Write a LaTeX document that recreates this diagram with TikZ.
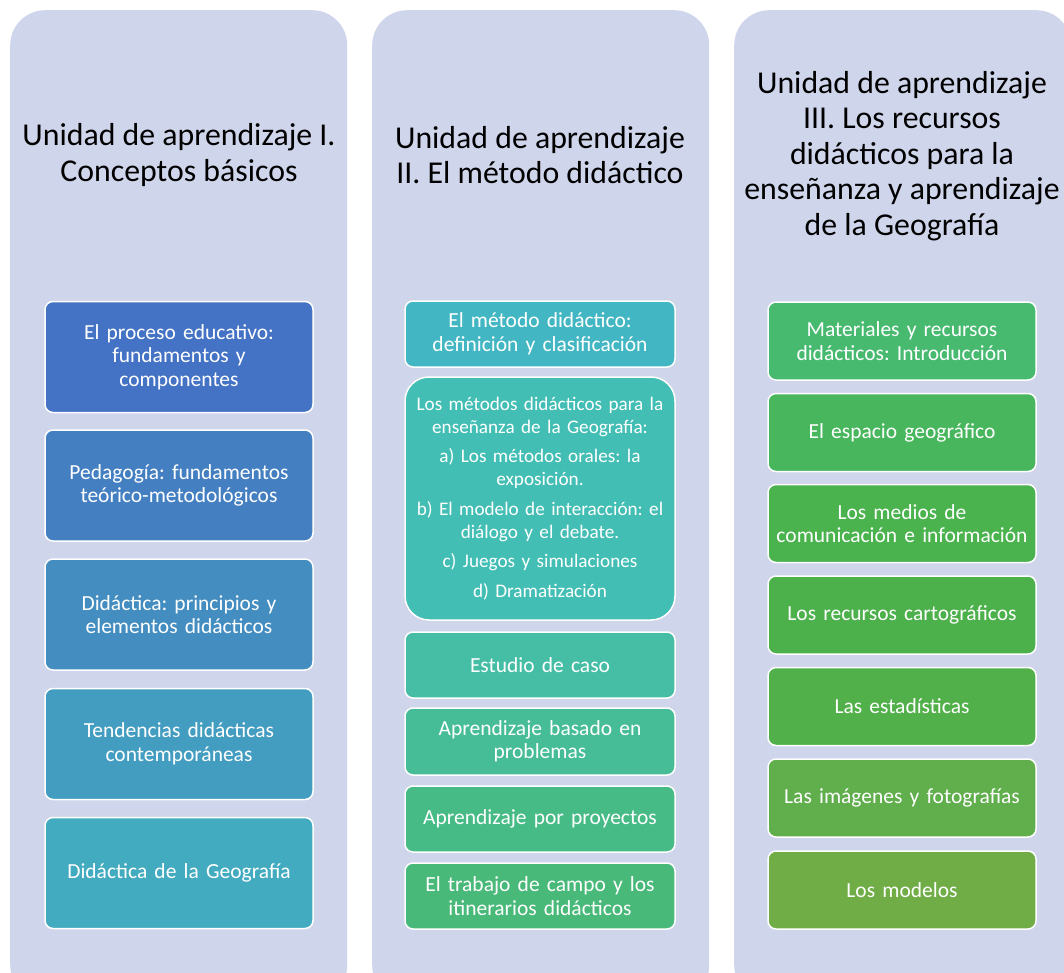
\documentclass[tikz,border=0pt]{standalone}
\usepackage{fontspec}
\setmainfont{Carlito}
\frenchspacing
\definecolor{panelc}{RGB}{207,213,234}
\definecolor{ca1}{RGB}{68,114,196}
\definecolor{ca2}{RGB}{68,127,194}
\definecolor{ca3}{RGB}{67,141,192}
\definecolor{ca4}{RGB}{67,157,192}
\definecolor{ca5}{RGB}{67,171,192}
\definecolor{cb1}{RGB}{66,183,195}
\definecolor{cb2}{RGB}{67,190,181}
\definecolor{cb3}{RGB}{69,190,165}
\definecolor{cb4}{RGB}{70,189,150}
\definecolor{cb5}{RGB}{71,187,134}
\definecolor{cb6}{RGB}{72,185,120}
\definecolor{cc1}{RGB}{71,186,112}
\definecolor{cc2}{RGB}{72,182,92}
\definecolor{cc3}{RGB}{74,179,78}
\definecolor{cc4}{RGB}{76,176,75}
\definecolor{cc5}{RGB}{82,176,74}
\definecolor{cc6}{RGB}{96,174,76}
\definecolor{cc7}{RGB}{112,173,71}
\begin{document}
\begin{tikzpicture}[x=1pt,y=-1pt,
  panel/.style={fill=panelc, rounded corners=35pt, draw=none, anchor=north west, inner sep=0pt, minimum width=337pt, minimum height=990pt},
  title/.style={align=center, text=black, font=\fontsize{31.8}{35.5}\selectfont, inner sep=0pt},
  box/.style={rounded corners=8pt, draw=white, line width=1.5pt, text=white, align=center, inner sep=0pt, font=\fontsize{21.5}{23.5}\selectfont},
  boxA/.style={box, minimum width=268pt, minimum height=111pt, text width=262pt},
  boxB/.style={box, minimum width=270pt, minimum height=66pt, text width=266pt},
  boxC/.style={box, minimum width=268pt, minimum height=78pt, text width=266pt}
]
\useasboundingbox (0,0) rectangle (1064,973);
\clip (0,0) rectangle (1064,973);
% panels
\node[panel] (p1) at (10,10) {};
\node[panel] (p2) at (372,10) {};
\node[panel] (p3) at (734,10) {};
% titles
\node[title] (t1) at (179,155) {Unidad de aprendizaje I.\\Conceptos básicos};
\node[title] (t2) at (540,155) {Unidad de aprendizaje\\II. El método didáctico};
\node[title] (t3) at (902,156) {Unidad de aprendizaje\\III. Los recursos\\didácticos para la\\enseñanza y aprendizaje\\de la Geografía};
% column 1
\node[boxA, fill=ca1] (a1) at (179,357) {El proceso educativo:\\fundamentos y\\componentes};
\node[boxA, fill=ca2] (a2) at (179,485.5) {Pedagogía: fundamentos\\teórico-metodológicos};
\node[boxA, fill=ca3] (a3) at (179,614.5) {Didáctica: principios y\\elementos didácticos};
\node[boxA, fill=ca4] (a4) at (179,744) {Tendencias didácticas\\contemporáneas};
\node[boxA, fill=ca5] (a5) at (179,873) {Didáctica de la Geografía};
% column 2
\node[boxB, fill=cb1] (b1) at (540,334) {El método didáctico:\\definición y clasificación};
\node[box, fill=cb2, rounded corners=24pt, minimum width=270pt, minimum height=243pt, text width=266pt, font=\fontsize{19.2}{23}\selectfont] (b2) at (540,498.5)
  {Los métodos didácticos para la\\enseñanza de la Geografía:\\[6.5pt]
   a) Los métodos orales: la\\exposición.\\[6.5pt]
   b) El modelo de interacción: el\\diálogo y el debate.\\[6.5pt]
   c) Juegos y simulaciones\\[6.5pt]
   d) Dramatización};
\node[boxB, fill=cb3] (b3) at (540,665) {Estudio de caso};
\node[boxB, fill=cb4, minimum height=67pt] (b4) at (540,741.5) {Aprendizaje basado en\\problemas};
\node[boxB, fill=cb5] (b5) at (540,819) {Aprendizaje por proyectos};
\node[boxB, fill=cb6] (b6) at (540,896) {El trabajo de campo y los\\itinerarios didácticos};
% column 3
\node[boxC, fill=cc1] (c1) at (902,341) {Materiales y recursos\\didácticos: Introducción};
\node[boxC, fill=cc2] (c2) at (902,432.5) {El espacio geográfico};
\node[boxC, fill=cc3] (c3) at (902,523.5) {Los medios de\\comunicación e información};
\node[boxC, fill=cc4] (c4) at (902,615) {Los recursos cartográficos};
\node[boxC, fill=cc5] (c5) at (902,706.5) {Las estadísticas};
\node[boxC, fill=cc6] (c6) at (902,798) {Las imágenes y fotografías};
\node[boxC, fill=cc7] (c7) at (902,890) {Los modelos};
\end{tikzpicture}
\end{document}
